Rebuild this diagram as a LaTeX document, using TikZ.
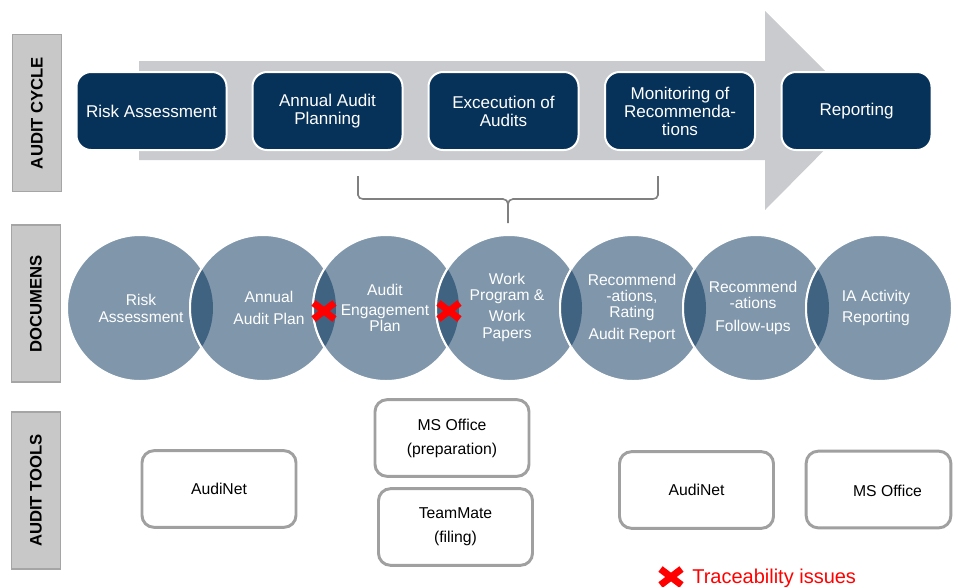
\documentclass[tikz,border=0pt]{standalone}
\usepackage{fontspec}
\setmainfont{Liberation Sans}
\definecolor{navy}{RGB}{6,49,89}
\definecolor{arrowgray}{RGB}{202,203,207}
\definecolor{sidefill}{RGB}{200,200,200}
\definecolor{sideline}{RGB}{165,165,165}
\definecolor{docfill}{RGB}{127,150,171}
\definecolor{lensfill}{RGB}{65,99,130}
\definecolor{toolline}{RGB}{160,160,160}
\definecolor{bracegray}{RGB}{128,128,128}
\definecolor{xred}{RGB}{255,0,0}
\begin{document}
\begin{tikzpicture}[x=0.75pt,y=-0.75pt,
  sidebox/.style={draw=sideline, fill=sidefill, line width=1.2pt, rotate=90,
    minimum width=118pt, minimum height=37pt, inner sep=0pt,
    font=\fontsize{12.5}{14}\selectfont\bfseries},
  cyclebox/.style={draw=white, fill=navy, line width=1.5pt, rounded corners=11pt,
    minimum width=112.5pt, minimum height=58.5pt, inner sep=2pt, text=white, align=center,
    font=\fontsize{12.8}{13.5}\selectfont},
  docbox/.style={circle, draw=white, fill=docfill, line width=1.5pt,
    minimum size=109.5pt, inner sep=0pt},
  doctext/.style={text=white, align=center, inner sep=0pt,
    font=\fontsize{11.7}{12}\selectfont},
  toolbox/.style={draw=toolline, fill=white, line width=2.2pt, rounded corners=9pt,
    minimum width=115.5pt, minimum height=57.5pt, inner sep=2pt, align=center,
    font=\fontsize{11.8}{18}\selectfont},
  tooltext/.style={inner sep=0pt, align=center, font=\fontsize{11.8}{18}\selectfont},
  brace/.style={draw=bracegray, line width=1.2pt},
  xmark/.style={draw=xred, line width=5.2pt},
  redx/.pic={\draw[xmark] (-10.5,-8) -- (10.5,8) (-10.5,8) -- (10.5,-8);}
]
\useasboundingbox (0,0) rectangle (953,586);
\fill[white] (0,0) rectangle (953,586);

% side labels
\node[sidebox] (s1) at (37,113) {AUDIT CYCLE};
\node[sidebox] (s2) at (36,303.5) {DOCUMENS};
\node[sidebox] (s3) at (36,490.5) {AUDIT TOOLS};

% big arrow
\fill[arrowgray] (139,61) -- (765,61) -- (765,11) -- (864,110) -- (765,210)
  -- (765,160) -- (139,160) -- cycle;

% audit cycle boxes
\node[cyclebox] (c1) at (151.5,111) {Risk Assessment};
\node[cyclebox] (c2) at (327.5,111) {Annual Audit\\Planning};
\node[cyclebox] (c3) at (503.5,111) {Excecution of\\Audits};
\node[cyclebox] (c4) at (680,111) {Monitoring of\\Recommenda-\\tions};
\node[cyclebox] (c5) at (856.5,111) {Reporting};

% brace
\coordinate (bl) at (358,176);
\coordinate (br) at (658,176);
\coordinate (bm) at (508,223);
\draw[brace] (bl) -- (358,195) to[out=-90,in=180] (363,199) -- (503,199)
  to[out=0,in=90] (508,204) -- (bm);
\draw[brace] (br) -- (658,195) to[out=-90,in=0] (653,199) -- (513,199)
  to[out=180,in=90] (508,204);

% document circles
\foreach \i/\x in {1/140,2/263,3/386,4/509,5/633,6/756,7/879}{
  \node[docbox] (d\i) at (\x,308) {};
}
\foreach \a/\b in {1/2,2/3,3/4,4/5,5/6,6/7}{
  \begin{scope}
    \clip (d\a.center) circle[radius=54.75pt];
    \fill[lensfill] (d\b.center) circle[radius=54.75pt];
    \draw[white, line width=1.5pt] (d\b.center) circle[radius=54.75pt];
  \end{scope}
}
\node[doctext] (t1) at (141,308) {Risk\\[0.75pt]Assessment};
\node[doctext] (t2) at (269,308) {Annual\\[4.5pt]Audit Plan};
\node[doctext] (t3) at (385,308) {Audit\\[3pt]Engagement\\Plan};
\node[doctext] (t4) at (507,307) {Work\\Program \&\\[3.75pt]Work\\[0.75pt]Papers};
\node[doctext] (t5) at (632,308) {Recommend\\-ations,\\Rating\\[4.5pt]Audit Report};
\node[doctext] (t6) at (753,307.5) {Recommend\\-ations\\[5.25pt]Follow-ups};
\node[doctext] (t7) at (876,307.5) {IA Activity\\[3.75pt]Reporting};

% traceability marks
\pic at (324,311) {redx};
\pic at (449,311) {redx};

% audit tools
\node[toolbox] (u1) at (219,489) {AudiNet};
\node[toolbox] (u2) at (452,438) {MS Office\\(preparation)};
\node[toolbox] (u3) at (455.5,527) {TeamMate\\(filing)};
\node[toolbox] (u4) at (696.5,490) {AudiNet};
\node[toolbox, minimum width=108.5pt] (u5) at (878.5,489.5) {};
\node[tooltext] (u5t) at (887.5,491) {MS Office};

% legend
\pic at (671,577) {redx};
\node[anchor=base west, inner sep=0pt, text=xred, font=\fontsize{15}{16}\selectfont]
  (leg) at (692,583) {Traceability issues};
\end{tikzpicture}
\end{document}
